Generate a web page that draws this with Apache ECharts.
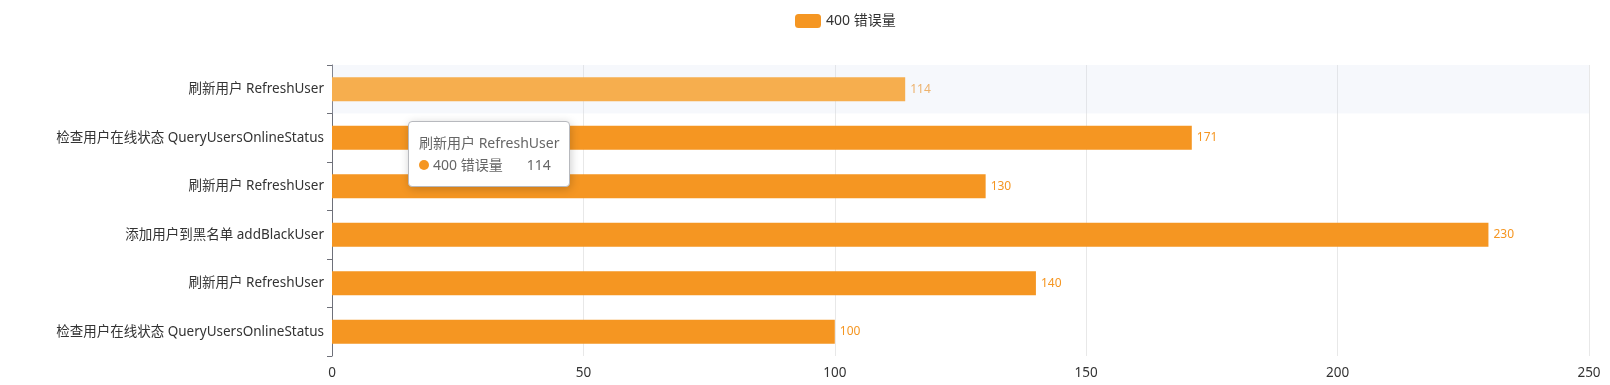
<!DOCTYPE html>
<html><head><meta charset="utf-8">
<script src="https://cdn.jsdelivr.net/npm/echarts@6/dist/echarts.min.js"></script>
<style>html,body{margin:0;padding:0;background:#fff}#c{width:1610px;height:385px}</style>
</head><body><div id="c"></div>
<script>
const categories = ['检查用户在线状态 QueryUsersOnlineStatus','刷新用户 RefreshUser','添加用户到黑名单 addBlackUser','刷新用户 RefreshUser','检查用户在线状态 QueryUsersOnlineStatus','刷新用户 RefreshUser'];
const values = [100, 140, 230, 130, 171, 114];
const seriesName = '400 错误量';
const xTicks = {min: 0, max: 250, interval: 50};
const hoveredIndex = 5;

const chart = echarts.init(document.getElementById('c'));
const font = '"Noto Sans", "Noto Sans CJK SC", sans-serif';
const seriesData = values.map((v, i) => i === hoveredIndex
  ? {value: v, itemStyle: {color: '#ffa326'}, label: {color: '#f4a84c'}}
  : v);
chart.setOption({
  textStyle: {fontFamily: font},
  legend: {top: 9, left: 790, icon: 'roundRect', itemWidth: 26, itemHeight: 14, itemGap: 10,
    textStyle: {fontSize: 14, color: '#333', fontFamily: font}, data: [seriesName]},
  tooltip: {trigger: 'axis', axisPointer: {type: 'shadow', shadowStyle: {color: 'rgba(210,219,238,0.2)'}},
    position: [408, 121], textStyle: {fontFamily: font, fontSize: 14, color: '#666'},
    formatter: function (params) {
      const p = params[0];
      return '<div style="line-height:22px">' + p.name + '<br/>' +
        '<span style="display:inline-block;margin-right:4px;border-radius:10px;width:10px;height:10px;background-color:#f59622;"></span>' +
        p.seriesName + '<span style="margin-left:24px">' + p.value + '</span></div>';
    }},
  grid: {left: 332, right: 21, top: 65, bottom: 29, containLabel: false},
  xAxis: {type: 'value', min: xTicks.min, max: xTicks.max, interval: xTicks.interval,
    axisLine: {show: false}, axisTick: {show: false},
    axisLabel: {fontSize: 13.5, color: '#333', fontFamily: font, margin: 10},
    splitLine: {lineStyle: {color: '#e8e8e8'}}},
  yAxis: {type: 'category', data: categories,
    axisLine: {show: true, lineStyle: {color: '#6E7079'}},
    axisTick: {show: true, lineStyle: {color: '#6E7079'}},
    axisLabel: {fontSize: 13.5, color: '#333', fontFamily: font, margin: 8}},
  series: [{name: seriesName, type: 'bar', data: seriesData, barWidth: 24,
    itemStyle: {color: '#f59622'},
    emphasis: {disabled: true},
    label: {show: true, position: 'right', color: '#f59622', fontSize: 12, fontFamily: font}}]
});
chart.dispatchAction({type: 'showTip', seriesIndex: 0, dataIndex: hoveredIndex});
</script></body></html>
